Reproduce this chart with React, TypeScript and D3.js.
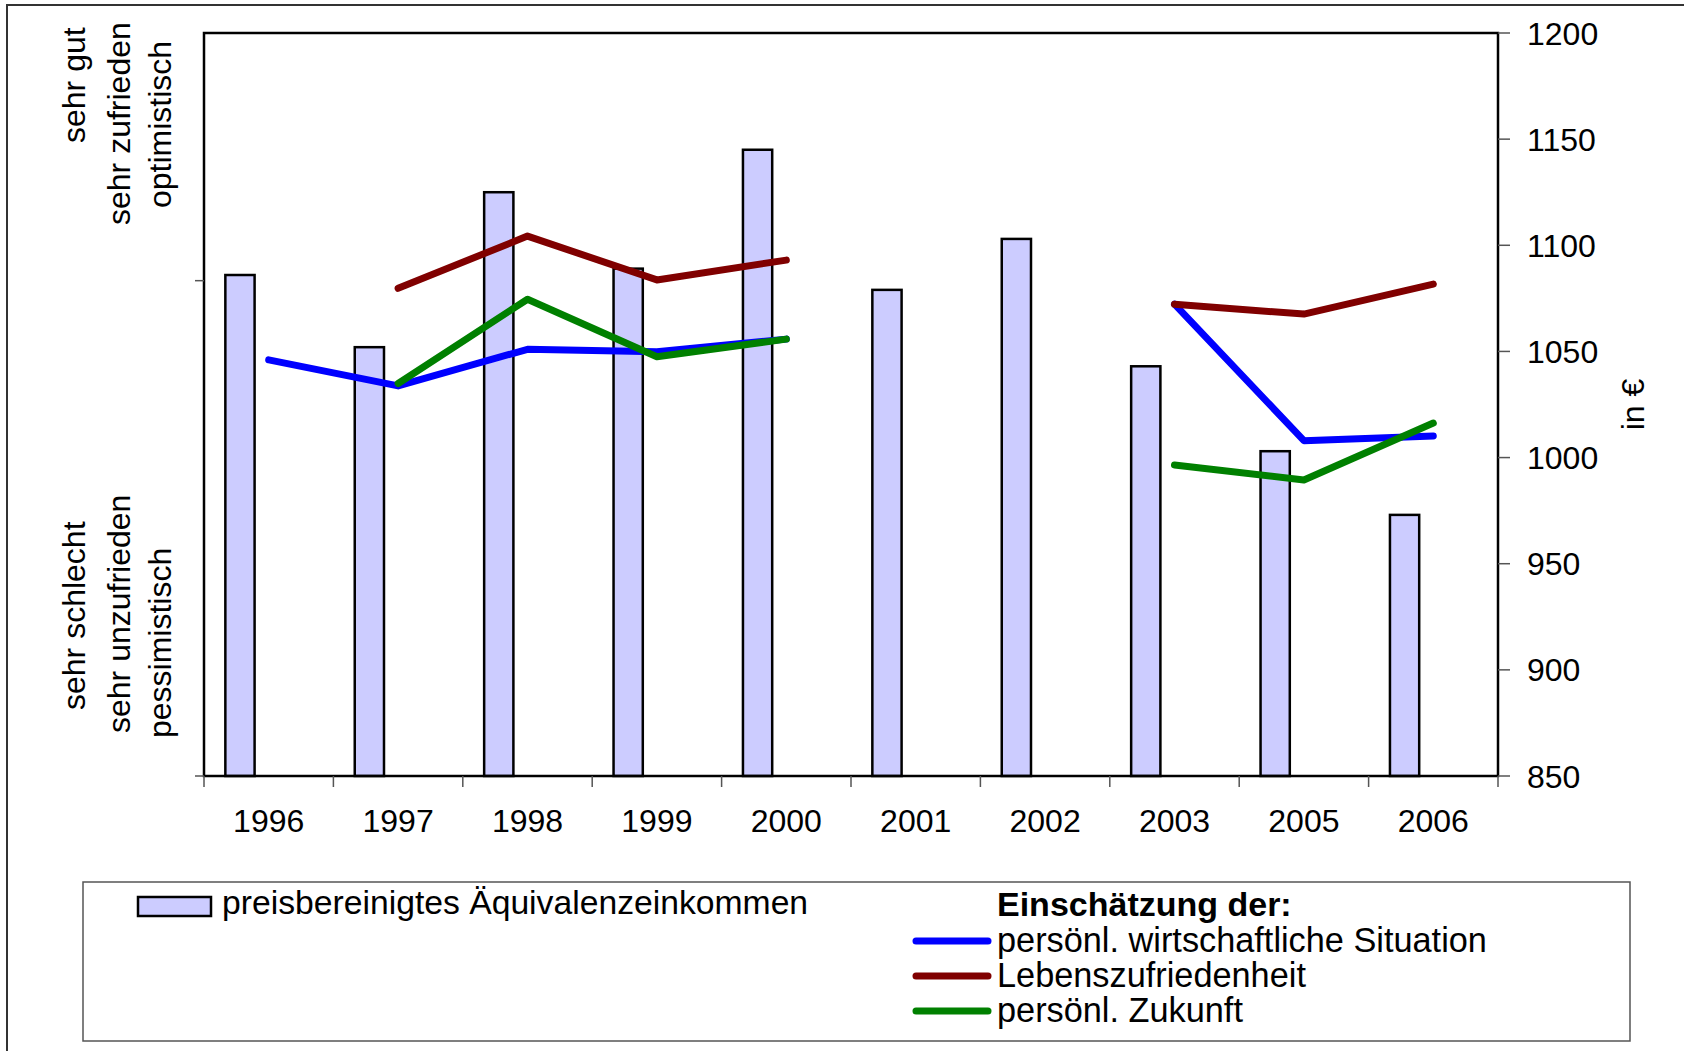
import * as d3 from 'd3';

const years = ['1996', '1997', '1998', '1999', '2000', '2001', '2002', '2003', '2005', '2006'];
// preisbereinigtes Äquivalenzeinkommen in €
const income = [1086, 1052, 1125, 1089, 1145, 1079, 1103, 1043, 1003, 973];
// Einschätzungen (hidden left scale)
const wirtschaft = [1.68, 1.575, 1.723, 1.713, 1.764, null, null, 1.905, 1.354, 1.373];
const leben = [null, 1.969, 2.18, 2.003, 2.083, null, null, 1.905, 1.865, 1.986];
const zukunft = [null, 1.585, 1.925, 1.693, 1.764, null, null, 1.256, 1.195, 1.425];
const euroTicks = [850, 900, 950, 1000, 1050, 1100, 1150, 1200];
const leftTicks = [0, 2];

const W = 1684;
const H = 1051;
const plot = { left: 204, right: 1498, top: 33, bottom: 776 };
const FONT = '"Liberation Sans", Arial, sans-serif';

export default function App() {
  const x = d3.scaleBand<string>().domain(years).range([plot.left, plot.right]).padding(0);
  const bw = x.bandwidth();
  const yR = d3.scaleLinear().domain([850, 1200]).range([plot.bottom, plot.top]);
  const yL = d3.scaleLinear().domain([0, 3]).range([plot.bottom, plot.top]);

  const line = d3
    .line<number | null>()
    .defined((d) => d != null)
    .x((_, i) => (x(years[i]) as number) + bw / 2)
    .y((d) => yL(d as number));

  const series = [
    { name: 'persönl. wirtschaftliche Situation', values: wirtschaft, color: '#0000ff' },
    { name: 'Lebenszufriedenheit', values: leben, color: '#800000' },
    { name: 'persönl. Zukunft', values: zukunft, color: '#008000' },
  ];

  const boundaries = years.map((y) => x(y) as number).concat([plot.right]);

  return (
    <svg
      width={W}
      height={H}
      style={{ position: 'absolute', left: 0, top: 0, background: '#fff' }}
      fontFamily={FONT}
    >
      <rect x={0} y={0} width={W} height={H} fill="#fff" />
      {/* outer frame */}
      <rect x={7} y={5} width={W + 20} height={H + 20} fill="none" stroke="#333" strokeWidth={2} />

      {/* bars */}
      {income.map((v, i) => (
        <rect
          key={years[i]}
          x={(x(years[i]) as number) + bw * 0.165}
          y={yR(v)}
          width={bw * 0.226}
          height={plot.bottom - yR(v)}
          fill="#ccccff"
          stroke="#000"
          strokeWidth={2.5}
        />
      ))}

      {/* plot frame */}
      <rect
        x={plot.left}
        y={plot.top}
        width={plot.right - plot.left}
        height={plot.bottom - plot.top}
        fill="none"
        stroke="#000"
        strokeWidth={2.5}
      />

      {/* lines */}
      {series.map((s) => (
        <path
          key={s.name}
          d={line(s.values) || ''}
          fill="none"
          stroke={s.color}
          strokeWidth={7}
          strokeLinecap="round"
          strokeLinejoin="round"
        />
      ))}

      {/* left axis ticks (labels hidden) */}
      {leftTicks.map((t) => (
        <line key={t} x1={plot.left - 9} x2={plot.left} y1={yL(t)} y2={yL(t)} stroke="#555" strokeWidth={1.5} />
      ))}

      {/* right axis */}
      {euroTicks.map((t) => (
        <g key={t}>
          <line x1={plot.right} x2={plot.right + 12} y1={yR(t)} y2={yR(t)} stroke="#555" strokeWidth={1.5} />
          <text x={1527} y={yR(t)} dy="0.36em" fontSize={32} fill="#000">
            {t}
          </text>
        </g>
      ))}

      {/* x axis */}
      {boundaries.map((b, i) => (
        <line key={i} x1={b} x2={b} y1={plot.bottom} y2={plot.bottom + 11} stroke="#555" strokeWidth={1.5} />
      ))}
      {years.map((y) => (
        <text key={y} x={(x(y) as number) + bw / 2} y={832} textAnchor="middle" fontSize={32} fill="#000">
          {y}
        </text>
      ))}

      {/* left side labels */}
      <text transform="translate(85,143) rotate(-90)" fontSize={32}>sehr gut</text>
      <text transform="translate(130,225) rotate(-90)" fontSize={32}>sehr zufrieden</text>
      <text transform="translate(171,208) rotate(-90)" fontSize={32}>optimistisch</text>
      <text transform="translate(85,710) rotate(-90)" fontSize={32}>sehr schlecht</text>
      <text transform="translate(130,733) rotate(-90)" fontSize={32}>sehr unzufrieden</text>
      <text transform="translate(171,738) rotate(-90)" fontSize={32}>pessimistisch</text>

      {/* right axis title */}
      <text transform={`translate(1644,${(plot.top + plot.bottom) / 2}) rotate(-90)`} textAnchor="middle" fontSize={32}>
        in €
      </text>

      {/* legend */}
      <rect x={83} y={882} width={1547} height={159} fill="#fff" stroke="#555" strokeWidth={1.5} />
      <rect x={138} y={897} width={73} height={19} fill="#ccccff" stroke="#000" strokeWidth={2.5} />
      <text x={222} y={914} fontSize={33.7}>preisbereinigtes Äquivalenzeinkommen</text>
      <text x={997} y={916} fontSize={34} fontWeight="bold">Einschätzung der:</text>
      {series.map((s, i) => (
        <g key={s.name}>
          <line
            x1={916}
            x2={988}
            y1={941 + i * 35}
            y2={941 + i * 35}
            stroke={s.color}
            strokeWidth={7}
            strokeLinecap="round"
          />
          <text x={997} y={952 + i * 35} fontSize={34.3}>
            {s.name}
          </text>
        </g>
      ))}
    </svg>
  );
}
